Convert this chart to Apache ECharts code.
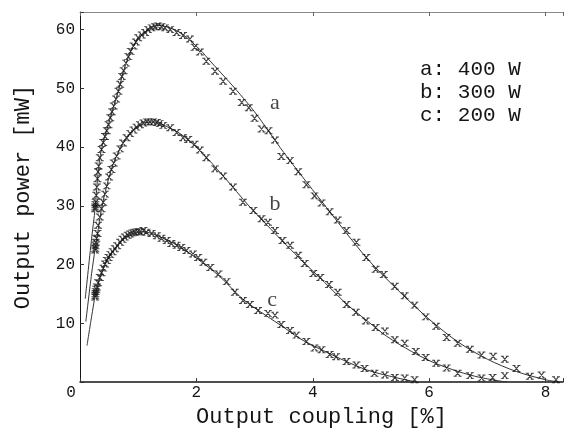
<!DOCTYPE html>
<html>
<head>
<meta charset="utf-8">
<script src="https://cdn.jsdelivr.net/npm/echarts@6/dist/echarts.min.js"></script>
<style>
  html, body { margin: 0; padding: 0; background: #fff; }
  #chart { width: 566px; height: 433px; }
</style>
</head>
<body>
<div id="chart"></div>
<script>
// measured points, [coupling %, power mW]
const measA = [
  [0.26,29.5],[0.262,29.8],[0.265,30.2],[0.27,30.6],[0.28,31.8],[0.29,33.2],[0.30,34.6],[0.31,35.8],
  [0.32,36.8],[0.34,38.2],[0.37,39.6],[0.40,40.8],[0.43,41.8],[0.46,42.8],[0.49,43.8],[0.52,45.0],
  [0.55,46.0],[0.58,47.0],[0.62,48.2],[0.66,49.5],[0.69,50.7],[0.72,52.0],[0.75,53.0],[0.79,54.3],
  [0.83,55.4],[0.87,56.3],[0.92,57.2],[0.96,57.9],[1.00,58.6],[1.06,59.1],[1.12,59.5],[1.17,60.0],
  [1.23,60.3],[1.29,60.5],[1.34,60.6],[1.40,60.5],[1.46,60.3],[1.55,60.0],[1.66,59.5],[1.77,59.0],
  [1.89,58.4],[1.97,57.0],[2.06,56.2],[2.17,54.6],[2.32,52.9],[2.46,51.2],[2.63,49.5],[2.78,47.6],
  [2.90,46.7],[3.00,44.9],[3.12,43.1],[3.24,42.8],[3.35,41.2],[3.46,38.4],[3.61,37.7],[3.75,35.8],
  [3.89,33.6],[4.03,31.7],[4.15,30.5],[4.29,29.0],[4.43,27.6],[4.58,25.8],[4.75,23.8],[4.92,21.2],
  [5.08,19.2],[5.22,18.3],[5.41,16.3],[5.58,14.7],[5.75,13.1],[5.94,11.1],[6.12,9.5],[6.30,7.6],
  [6.49,6.6],[6.70,5.6],[6.90,4.6],[7.10,4.4],[7.30,3.9],[7.50,2.3],[7.73,1.0],[7.93,1.2],[8.18,0.4]
];
const measB = [
  [0.26,22.5],[0.262,22.8],[0.265,23.2],[0.27,23.8],[0.28,24.5],[0.30,25.3],[0.31,26.7],[0.34,28.1],
  [0.37,29.5],[0.40,30.6],[0.43,32.0],[0.46,33.4],[0.50,34.9],[0.54,36.2],[0.58,37.3],[0.63,38.5],
  [0.69,39.7],[0.74,40.7],[0.80,41.6],[0.86,42.3],[0.92,42.9],[0.97,43.4],[1.03,43.8],[1.09,44.1],
  [1.15,44.3],[1.20,44.3],[1.26,44.3],[1.32,44.2],[1.37,44.0],[1.43,43.7],[1.55,43.3],[1.66,42.5],
  [1.77,41.6],[1.86,41.3],[1.97,40.5],[2.06,39.5],[2.17,38.2],[2.32,36.3],[2.46,35.1],[2.63,33.2],
  [2.80,30.6],[2.98,29.2],[3.12,27.8],[3.23,27.2],[3.35,25.8],[3.48,24.1],[3.61,23.3],[3.75,21.6],
  [3.86,20.2],[4.01,18.5],[4.13,17.8],[4.28,16.6],[4.43,15.3],[4.58,13.2],[4.74,11.9],[4.91,10.4],
  [5.08,9.3],[5.24,8.7],[5.41,7.2],[5.58,6.6],[5.77,5.2],[5.94,4.2],[6.12,3.2],[6.30,2.4],
  [6.49,1.5],[6.70,1.1],[6.90,0.7],[7.09,0.8],[7.30,1.1]
];
const measC = [
  [0.26,14.5],[0.262,14.8],[0.265,15.1],[0.27,15.4],[0.28,15.8],[0.29,16.2],[0.31,16.9],[0.34,17.8],
  [0.37,18.6],[0.40,19.4],[0.43,20.1],[0.46,20.7],[0.49,21.2],[0.52,21.7],[0.56,22.2],[0.60,22.7],
  [0.64,23.2],[0.69,23.8],[0.73,24.3],[0.77,24.7],[0.82,25.0],[0.86,25.2],[0.90,25.4],[0.94,25.5],
  [0.99,25.6],[1.03,25.6],[1.09,25.8],[1.14,25.5],[1.23,25.3],[1.32,24.9],[1.40,24.5],[1.49,24.1],
  [1.57,23.6],[1.66,23.3],[1.74,22.9],[1.83,22.4],[1.94,21.8],[2.03,21.2],[2.12,20.4],[2.24,19.5],
  [2.38,18.4],[2.52,17.1],[2.66,15.3],[2.80,13.9],[2.92,13.2],[3.06,12.2],[3.23,11.7],[3.35,11.4],
  [3.46,9.8],[3.61,8.8],[3.72,8.0],[3.89,6.9],[4.03,5.8],[4.15,5.5],[4.29,4.7],[4.40,4.3],
  [4.58,3.5],[4.75,2.9],[4.89,2.3],[5.06,1.5],[5.24,1.2],[5.41,0.8],[5.58,0.7],[5.75,0.4]
];

// fitted curves
const fitA = [
  [0.09,14.2],[0.2,24.5],[0.26,29.6],[0.30,34.5],[0.34,38.1],[0.40,40.9],[0.49,43.9],[0.58,47.0],
  [0.66,49.6],[0.75,53.0],[0.92,57.3],[1.15,59.9],[1.35,60.7],[1.55,60.3],[1.75,59.3],[2.06,56.6],
  [2.25,54.5],[2.5,51.8],[2.75,49.0],[3.0,46.0],[3.25,42.6],[3.5,39.1],[4.15,30.8],[4.92,21.2],
  [5.5,15.3],[6.0,10.7],[6.5,6.8],[7.0,3.9],[7.5,1.8],[8.0,0.4],[8.24,0]
];
const fitB = [
  [0.10,10.3],[0.2,18.5],[0.26,22.7],[0.30,25.2],[0.37,29.5],[0.46,33.4],[0.57,37.1],[0.74,40.7],
  [0.92,42.9],[1.10,44.1],[1.25,44.3],[1.40,43.9],[1.72,42.3],[2.06,39.4],[2.46,35.1],[2.92,29.8],
  [3.40,24.8],[3.78,21.0],[4.2,17.0],[4.58,13.3],[5.0,9.9],[5.27,7.8],[5.7,5.2],[6.06,3.4],
  [6.5,1.8],[6.87,0.8],[7.33,0]
];
const fitC = [
  [0.12,6.2],[0.2,11.2],[0.26,14.7],[0.30,16.4],[0.37,18.6],[0.46,20.7],[0.60,22.7],[0.80,24.8],
  [1.03,25.6],[1.20,25.4],[1.49,24.2],[1.72,23.0],[2.0,21.1],[2.4,18.0],[2.8,14.1],[3.2,11.3],
  [3.49,9.4],[3.78,7.4],[4.34,4.6],[4.92,2.1],[5.5,0.6],[5.8,0]
];

const curveNames = ['a', 'b', 'c'];
const curveLabelPos = [[3.35, 47.5], [3.35, 30.3], [3.30, 13.9]];
const legendLines = ['a: 400 W', 'b: 300 W', 'c: 200 W'];

const MONO = '"Liberation Mono", monospace';
const INK = '#151515';
const crossPath = 'path://M0,0L3,0M5,0L8,0M0,6L3,6M5,6L8,6M1.5,0L6.5,6M6.5,0L1.5,6';

const chart = echarts.init(document.getElementById('chart'));

function fitSeries(data) {
  return {
    type: 'line', data: data, smooth: 0.3, showSymbol: false, symbol: 'none',
    lineStyle: { color: '#333', width: 1 }, z: 2, silent: true
  };
}
function measSeries(data) {
  return {
    type: 'scatter', data: data, symbol: crossPath, symbolSize: [8, 6],
    itemStyle: { color: 'none', borderColor: INK, borderWidth: 1.1 }, z: 3, silent: true
  };
}

const series = [
  fitSeries(fitA), measSeries(measA),
  fitSeries(fitB), measSeries(measB),
  fitSeries(fitC), measSeries(measC),
  {
    type: 'scatter', symbolSize: 0, silent: true,
    data: curveLabelPos.map((p, i) => ({ value: p, name: curveNames[i] })),
    label: { show: true, position: 'inside', formatter: '{b}', color: INK,
             fontFamily: '"Liberation Serif", serif', fontSize: 22 }
  }
];

chart.setOption({
  animation: false,
  backgroundColor: '#fff',
  grid: { left: 80, top: 12, right: 3, bottom: 49, containLabel: false },
  xAxis: [{
    type: 'value', min: 0, max: 8.3, interval: 2,
    name: 'Output coupling [%]', nameLocation: 'middle', nameGap: 9,
    nameTextStyle: { fontFamily: MONO, fontSize: 22, color: INK, verticalAlign: 'top' },
    axisLine: { lineStyle: { color: INK, width: 1.5 } },
    axisTick: { inside: true, length: 4, lineStyle: { color: '#333' } },
    splitLine: { show: false },
    axisLabel: {
      margin: 3, fontFamily: MONO, fontSize: 16, color: INK,
      formatter: v => v === 0 ? '{z|0}' : (v % 2 === 0 ? String(v) : ''),
      rich: { z: { fontFamily: MONO, fontSize: 16, color: INK, padding: [0, 18, 0, 0] } }
    }
  }, {
    type: 'value', position: 'top', min: 0, max: 8.3, interval: 2,
    axisLine: { show: true, lineStyle: { color: '#8a8a8a', width: 1 } },
    axisTick: { inside: true, length: 4, lineStyle: { color: '#666' } },
    axisLabel: { show: false }, splitLine: { show: false }
  }],
  yAxis: {
    type: 'value', min: 0, max: 63, interval: 10,
    name: 'Output power [mW]', nameLocation: 'middle', nameGap: 46,
    nameTextStyle: { fontFamily: MONO, fontSize: 22, color: INK },
    axisLine: { show: true, lineStyle: { color: INK, width: 1 } },
    axisTick: { inside: true, length: 4, lineStyle: { color: '#333' } },
    splitLine: { show: false },
    axisLabel: {
      margin: 5, fontFamily: MONO, fontSize: 16, color: INK,
      formatter: v => (v > 0 && v % 10 === 0) ? String(v) : ''
    }
  },
  graphic: legendLines.map((t, i) => ({
    type: 'text', x: 420, y: 69 + i * 23, silent: true,
    style: { text: t, font: '21px ' + MONO, fill: INK, verticalAlign: 'middle' }
  })),
  series: series
});
</script>
</body>
</html>
